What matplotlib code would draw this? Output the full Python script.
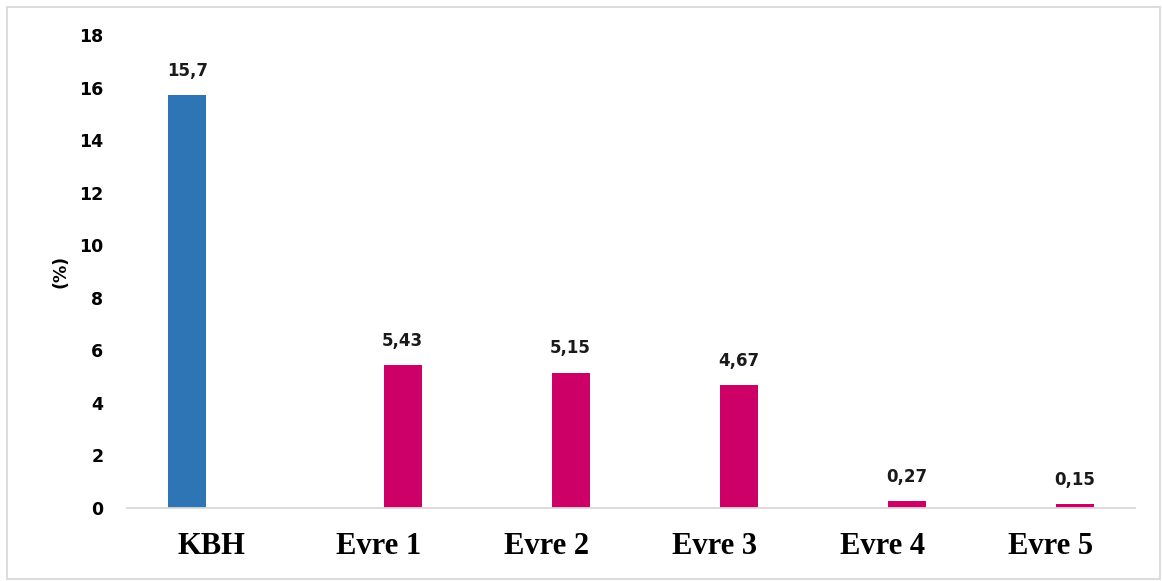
import matplotlib.pyplot as plt
import numpy as np
from matplotlib.patches import Rectangle

categories = ["KBH", "Evre 1", "Evre 2", "Evre 3", "Evre 4", "Evre 5"]
kbh_values = [15.7, np.nan, np.nan, np.nan, np.nan, np.nan]
evre_values = [np.nan, 5.43, 5.15, 4.67, 0.27, 0.15]
y_ticks = [0, 2, 4, 6, 8, 10, 12, 14, 16, 18]

fig = plt.figure(figsize=(11.62, 5.81), dpi=100)
ax = fig.add_axes([127 / 1162, 1 - 508 / 581, (1135 - 127) / 1162, (508 - 35) / 581])

x = np.arange(len(categories))
w = 0.226
off = 0.14
ax.bar(x - off, kbh_values, width=w, color="#2E75B6")
ax.bar(x + off, evre_values, width=w, color="#CC0066")

def fmt(v):
    return f"{v:g}".replace(".", ",")

for xs, vals in [(x - off, kbh_values), (x + off, evre_values)]:
    for xi, v in zip(xs, vals):
        if not np.isnan(v):
            ax.annotate(fmt(v), (xi, v), xytext=(0, 11), textcoords="offset points",
                        ha="center", va="bottom", fontsize=12, fontweight="bold",
                        color="#1a1a1a")

ax.set_xlim(-0.5, len(categories) - 0.5)
ax.set_ylim(0, 18)
ax.set_yticks(y_ticks)
ax.set_yticklabels([str(t) for t in y_ticks], fontsize=12.5, fontweight="bold")
ax.set_xticks(x)
ax.set_xticklabels(categories, family="Liberation Serif", fontsize=22, fontweight="bold")
ax.tick_params(axis="both", length=0)
ax.tick_params(axis="y", pad=17)
ax.tick_params(axis="x", pad=17)
ax.set_ylabel("(%)", fontsize=12.5, fontweight="bold", labelpad=7)

for s in ["top", "right", "left"]:
    ax.spines[s].set_visible(False)
ax.spines["bottom"].set_color("#D9D9D9")
ax.spines["bottom"].set_linewidth(1.3)

fig.patches.append(Rectangle((7 / 1162, 2 / 581), 1153 / 1162, 572 / 581,
                             transform=fig.transFigure, fill=False,
                             edgecolor="#D9D9D9", linewidth=1.3))

fig.savefig("out.png", dpi=100)
